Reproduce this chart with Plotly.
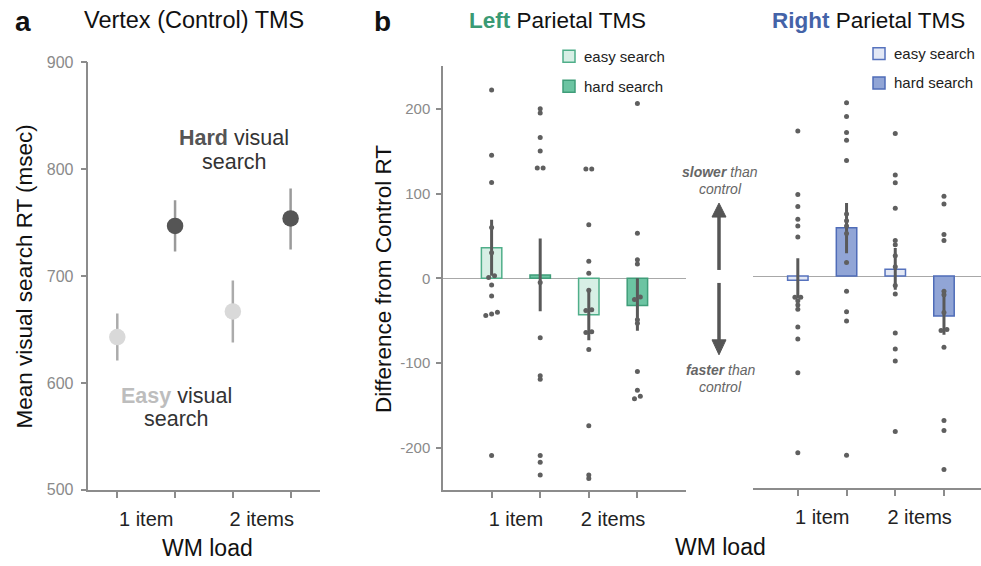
import plotly.graph_objects as go

W, H = 981, 566
FONT = "Arial, Liberation Sans, sans-serif"

# ---------------- data ----------------
wm_labels = ["1 item", "2 items"]
diff_ticks = [-200, -100, 0, 100, 200]
rt_ticks = [500, 600, 700, 800, 900]

# panel a: vertex (control) TMS mean RT (msec)
vertex_easy_mean = [643, 667]
vertex_easy_lo = [621, 638]
vertex_easy_hi = [665, 696]
vertex_hard_mean = [747, 754]
vertex_hard_lo = [723, 725]
vertex_hard_hi = [771, 782]

# panel b: left parietal TMS, difference from control RT
left_easy_mean = [36, -43]
left_easy_lo = [3, -73]
left_easy_hi = [69, -13]
left_hard_mean = [4, -32]
left_hard_lo = [-39, -62]
left_hard_hi = [47, 0]
left_easy_1item = [222, 145, 113, 60, 30, 3, 1, -8, -21, -40, -42, -44, -209]
left_hard_1item = [200, 195, 166, 150, 130, 130, -5, -70, -115, -119, -209, -217, -232]
left_easy_2items = [129, 129, 63, 20, 6, -14, -37, -38, -63, -64, -84, -174, -232, -236]
left_hard_2items = [206, 53, 22, 17, -22, -25, -49, -53, -110, -132, -139, -142]

# panel b: right parietal TMS
right_easy_mean = [-5, 8]
right_easy_lo = [-26, -16]
right_easy_hi = [21, 33]
right_hard_mean = [57, -47]
right_hard_lo = [27, -69]
right_hard_hi = [86, -22]
right_easy_1item = [171, 96, 82, 67, 59, 46, -25, -25, -29, -34, -39, -60, -74, -114, -208]
right_hard_1item = [204, 188, 169, 160, 136, 73, 65, 59, 50, 16, -18, -42, -53, -211]
right_easy_2items = [168, 119, 110, 80, 42, 37, 24, 11, -11, -21, -67, -86, -100, -183]
right_hard_2items = [94, 85, 49, 42, -18, -22, -43, -63, -64, -84, -170, -182, -228]

# ---------------- helpers ----------------
def px(x):
    return x / W

# vertical calibration (observed rendering: out = 7.6 + 0.9716 * in)
def py(y):
    return 1 - ((y - 7.6) / 0.9716) / H

def cond_x(load_idx, hard):
    return 2 * load_idx + (1 if hard else 0)

def jitter(vals, step=0.12, tol=4):
    order = sorted(range(len(vals)), key=lambda i: vals[i])
    offs = [0.0] * len(vals)
    clusters, cur = [], [order[0]]
    for i in order[1:]:
        if abs(vals[i] - vals[cur[-1]]) < tol:
            cur.append(i)
        else:
            clusters.append(cur)
            cur = [i]
    clusters.append(cur)
    for c in clusters:
        n = len(c)
        for k, i in enumerate(c):
            offs[i] = (k - (n - 1) / 2) * step
    return offs

fig = go.Figure()

# ---------------- panel a ----------------
for mean, lo, hi, hard, col, ecol in [
    (vertex_easy_mean, vertex_easy_lo, vertex_easy_hi, False, "#d9d9d9", "#ababab"),
    (vertex_hard_mean, vertex_hard_lo, vertex_hard_hi, True, "#555555", "#9a9a9a"),
]:
    xs = [cond_x(i, hard) for i in range(len(mean))]
    fig.add_trace(go.Scatter(
        x=xs, y=mean, mode="markers", xaxis="x", yaxis="y",
        marker=dict(size=16.5, color=col, line=dict(width=0)),
        error_y=dict(type="data", symmetric=False,
                     array=[h - m for h, m in zip(hi, mean)],
                     arrayminus=[m - l for m, l in zip(mean, lo)],
                     color=ecol, thickness=2.5, width=0),
        showlegend=False, hoverinfo="skip"))

# ---------------- panel b ----------------
def add_panel(xa, ya, easy_mean, easy_lo, easy_hi, hard_mean, hard_lo, hard_hi,
              dots, easy_fill, easy_line, hard_fill, hard_line):
    for mean, hard, fill, line in [(easy_mean, False, easy_fill, easy_line),
                                   (hard_mean, True, hard_fill, hard_line)]:
        xs = [cond_x(i, hard) for i in range(len(mean))]
        fig.add_trace(go.Bar(x=xs, y=mean, width=0.42, xaxis=xa, yaxis=ya,
                             marker=dict(color=fill, line=dict(color=line, width=1.5)),
                             showlegend=False, hoverinfo="skip"))
    for mean, lo, hi, hard in [(easy_mean, easy_lo, easy_hi, False),
                               (hard_mean, hard_lo, hard_hi, True)]:
        xs = [cond_x(i, hard) for i in range(len(mean))]
        fig.add_trace(go.Scatter(
            x=xs, y=mean, mode="markers", xaxis=xa, yaxis=ya,
            marker=dict(size=1, opacity=0),
            error_y=dict(type="data", symmetric=False,
                         array=[h - m for h, m in zip(hi, mean)],
                         arrayminus=[m - l for m, l in zip(mean, lo)],
                         color="#595959", thickness=3, width=0),
            showlegend=False, hoverinfo="skip"))
    dx, dy = [], []
    for (load_idx, hard), vals in dots:
        offs = jitter(vals)
        dx += [cond_x(load_idx, hard) + o for o in offs]
        dy += vals
    fig.add_trace(go.Scatter(x=dx, y=dy, mode="markers", xaxis=xa, yaxis=ya,
                             marker=dict(size=5, color="#5f5f5f"),
                             showlegend=False, hoverinfo="skip"))

add_panel("x2", "y2", left_easy_mean, left_easy_lo, left_easy_hi,
          left_hard_mean, left_hard_lo, left_hard_hi,
          [((0, False), left_easy_1item), ((0, True), left_hard_1item),
           ((1, False), left_easy_2items), ((1, True), left_hard_2items)],
          "#d7efe5", "#4fae89", "#6cc4a2", "#3f9d79")
add_panel("x3", "y3", right_easy_mean, right_easy_lo, right_easy_hi,
          right_hard_mean, right_hard_lo, right_hard_hi,
          [((0, False), right_easy_1item), ((0, True), right_hard_1item),
           ((1, False), right_easy_2items), ((1, True), right_hard_2items)],
          "#e3e8f5", "#5672bd", "#91a5d6", "#4f6cb8")

# ---------------- axes ----------------
axis_line = dict(showline=True, linecolor="#8c8c8c", linewidth=1.5, showgrid=False, zeroline=False)
cat_ticks = dict(tickmode="array", tickvals=[0.5, 2.5], ticktext=wm_labels, ticks="",
                 tickfont=dict(size=20, color="#222", family=FONT), ticklabelstandoff=10,
                 minor=dict(tickmode="array", tickvals=[0, 1, 2, 3], ticks="outside",
                            ticklen=6, tickwidth=1.5, tickcolor="#8c8c8c"))

fig.update_layout(
    width=W, height=H, margin=dict(l=0, r=0, t=0, b=0),
    paper_bgcolor="white", plot_bgcolor="white", barmode="overlay",
    font=dict(family=FONT, color="#222"),
    xaxis=dict(domain=[px(88.4), px(319.5)], range=[-0.5, 3.5], anchor="y", **axis_line, **cat_ticks),
    yaxis=dict(domain=[py(490.3), py(62.1)], range=[500, 900], anchor="x", **axis_line,
               tickmode="array", tickvals=rt_ticks, ticktext=[str(v) for v in rt_ticks],
               ticks="outside", ticklen=6, tickwidth=1.5,
               tickcolor="#8c8c8c", tickfont=dict(size=16, color="#8a8a8a"), ticklabelstandoff=4),
    xaxis2=dict(domain=[px(443), px(686)], range=[-1, 4], anchor="y2", **axis_line, **cat_ticks),
    yaxis2=dict(domain=[py(490.7), py(66)], range=[-250, 250], anchor="x2",
                showline=True, linecolor="#8c8c8c", linewidth=1.5, showgrid=False,
                zeroline=True, zerolinecolor="#a8a8a8", zerolinewidth=1.2,
                tickmode="array", tickvals=diff_ticks, ticktext=[str(v) for v in diff_ticks],
                ticks="outside", ticklen=5, tickwidth=1.5,
                tickcolor="#8c8c8c", tickfont=dict(size=15, color="#8a8a8a"), ticklabelstandoff=3),
    xaxis3=dict(domain=[px(753), 1.0], range=[-0.92, 3.76], anchor="y3", **axis_line, **cat_ticks),
    yaxis3=dict(domain=[py(488.7), py(63.5)], range=[-250, 250], anchor="x3",
                showline=False, showgrid=False, showticklabels=False, ticks="",
                zeroline=True, zerolinecolor="#a8a8a8", zerolinewidth=1.2),
)

# ---------------- text ----------------
def ann(x, y, text, size, color="#111", xanchor="center", angle=0):
    fig.add_annotation(x=px(x), y=py(y), xref="paper", yref="paper", text=text,
                       showarrow=False, xanchor=xanchor, yanchor="middle", textangle=angle,
                       font=dict(size=size, color=color, family=FONT))

ann(23, 21, "<b>a</b>", 28)
ann(194, 20, "Vertex (Control) TMS", 23.5)
ann(382, 21, "<b>b</b>", 28)
ann(557, 20, "<span style='color:#3a9a74'><b>Left</b></span> Parietal TMS", 22.5)
ann(868, 20, "<span style='color:#4463a8'><b>Right</b></span> Parietal TMS", 22.5)
ann(24.5, 277, "Mean visual search RT (msec)", 22.5, angle=-90)
ann(384, 279, "Difference from Control RT", 22.5, angle=-90)
ann(207, 549, "WM load", 23)
ann(720, 548, "WM load", 23)
ann(234, 138, "<span style='color:#555'><b>Hard</b></span> visual", 21.5, color="#333")
ann(234, 162, "search", 21.5, color="#333")
ann(176, 396, "<span style='color:#bdbdbd'><b>Easy</b></span> visual", 21.5, color="#333")
ann(176, 419.5, "search", 21.5, color="#333")
ann(720, 172, "<b><i>slower</i></b><i> than</i>", 14, color="#666")
ann(720, 189, "<i>control</i>", 14, color="#666")
ann(720, 370, "<b><i>faster</i></b><i> than</i>", 14, color="#666")
ann(720, 387, "<i>control</i>", 14, color="#666")

# legends
for cx, cy, fill, line, label in [
    (569, 56, "#d7efe5", "#4fae89", "easy search"),
    (569, 86, "#6cc4a2", "#3f9d79", "hard search"),
    (879, 53.3, "#e3e8f5", "#5672bd", "easy search"),
    (879, 82.7, "#91a5d6", "#4f6cb8", "hard search"),
]:
    fig.add_shape(type="rect", xref="paper", yref="paper",
                  x0=px(cx - 6), x1=px(cx + 6), y0=py(cy + 6), y1=py(cy - 6),
                  fillcolor=fill, line=dict(color=line, width=1.5))
    ann(cx + 12.5, cy, label, 15, color="#222", xanchor="left")

# arrows
ac = "#555555"
fig.add_shape(type="line", xref="paper", yref="paper", x0=px(719), x1=px(719),
              y0=py(270), y1=py(216), line=dict(color=ac, width=3.5))
fig.add_shape(type="path", xref="paper", yref="paper",
              path=f"M {px(712)},{py(217)} L {px(726)},{py(217)} L {px(719)},{py(203)} Z",
              fillcolor=ac, line=dict(color=ac, width=1))
fig.add_shape(type="line", xref="paper", yref="paper", x0=px(719), x1=px(719),
              y0=py(283), y1=py(341), line=dict(color=ac, width=3.5))
fig.add_shape(type="path", xref="paper", yref="paper",
              path=f"M {px(712)},{py(340)} L {px(726)},{py(340)} L {px(719)},{py(355)} Z",
              fillcolor=ac, line=dict(color=ac, width=1))

fig.write_html("out.html", config={"displayModeBar": False},
               post_script="document.body.style.margin='0px';document.body.style.overflow='hidden';")
